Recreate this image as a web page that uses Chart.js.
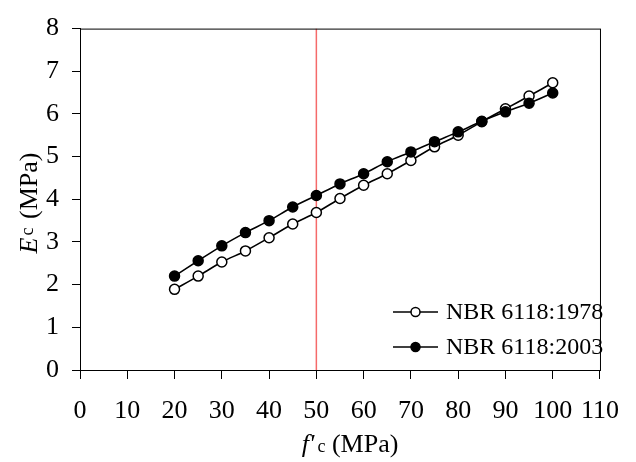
<!DOCTYPE html>
<html>
<head>
<meta charset="utf-8">
<script src="https://cdn.jsdelivr.net/npm/chart.js@4/dist/chart.umd.min.js"></script>
<style>
  html, body { margin: 0; padding: 0; background: #fff; }
  #wrap { width: 636px; height: 462px; }
</style>
</head>
<body>
<div id="wrap"><canvas id="chart" width="636" height="462"></canvas></div>
<script>
// f'c values (MPa)
const fck = [20, 25, 30, 35, 40, 45, 50, 55, 60, 65, 70, 75, 80, 85, 90, 95, 100];
// Ec
const ec1978 = [1.89, 2.20, 2.53, 2.79, 3.10, 3.42, 3.69, 4.02, 4.33, 4.60, 4.91, 5.23, 5.50, 5.82, 6.12, 6.42, 6.73];
const ec2003 = [2.20, 2.56, 2.91, 3.22, 3.50, 3.82, 4.09, 4.36, 4.60, 4.88, 5.11, 5.35, 5.58, 5.83, 6.05, 6.25, 6.49];
const seriesNames = ['NBR 6118:1978', 'NBR 6118:2003'];
const limitX = 50;   // red vertical line
const xTicks = [0, 10, 20, 30, 40, 50, 60, 70, 80, 90, 100, 110];
const yTicks = [0, 1, 2, 3, 4, 5, 6, 7, 8];

const FONT = '"Liberation Serif"';

function pts(xs, ys) {
  return xs.map((x, i) => ({ x: x, y: ys[i] }));
}

function drawParts(ctx, parts, cx, y) {
  let w = 0;
  parts.forEach(p => { ctx.font = p.f; w += ctx.measureText(p.t).width + (p.gap || 0); });
  let x = cx - w / 2;
  ctx.textAlign = 'left';
  ctx.textBaseline = 'alphabetic';
  parts.forEach(p => {
    ctx.font = p.f;
    ctx.fillText(p.t, x, y - (p.up || 0));
    x += ctx.measureText(p.t).width + (p.gap || 0);
  });
}

// box round plot area, axis titles and legend inside the plot
const extras = {
  id: 'extras',
  afterDraw(chart) {
    const ctx = chart.ctx;
    const a = chart.chartArea;
    ctx.save();
    ctx.strokeStyle = '#000';
    ctx.lineWidth = 1;
    ctx.strokeRect(a.left + 0.5, a.top + 0.5, a.right - a.left, a.bottom - a.top);
    ctx.fillStyle = '#000';

    // x title: f'c (MPa)
    drawParts(ctx, [
      { t: "f'", f: 'italic 26px ' + FONT, gap: 3 },
      { t: 'c', f: '18px ' + FONT },
      { t: ' (MPa)', f: '26px ' + FONT }
    ], 350, 452);

    // y title: Ec (MPa)
    ctx.save();
    ctx.translate(37, 203);
    ctx.rotate(-Math.PI / 2);
    drawParts(ctx, [
      { t: 'E', f: 'italic 26px ' + FONT, gap: 2 },
      { t: 'c', f: '18px ' + FONT, up: 4, gap: 2 },
      { t: ' (MPa)', f: '26px ' + FONT }
    ], 0, 0);
    ctx.restore();

    // legend
    const rows = [
      { y: 312, fill: '#fff', name: seriesNames[0] },
      { y: 347, fill: '#000', name: seriesNames[1] }
    ];
    rows.forEach(r => {
      ctx.strokeStyle = '#000';
      ctx.lineWidth = 1.5;
      ctx.beginPath();
      ctx.moveTo(393, r.y);
      ctx.lineTo(438, r.y);
      ctx.stroke();
      ctx.beginPath();
      ctx.arc(415.5, r.y, 4.5, 0, Math.PI * 2);
      ctx.fillStyle = r.fill;
      ctx.fill();
      ctx.stroke();
      ctx.fillStyle = '#000';
      ctx.font = '24px ' + FONT;
      ctx.textAlign = 'left';
      ctx.textBaseline = 'middle';
      ctx.fillText(r.name, 446, r.y + 1);
    });
    ctx.restore();
  }
};

new Chart(document.getElementById('chart'), {
  type: 'line',
  data: {
    datasets: [
      {
        label: seriesNames[0],
        data: pts(fck, ec1978),
        borderColor: '#000',
        borderWidth: 1.6,
        pointBackgroundColor: '#fff',
        pointBorderColor: '#000',
        pointBorderWidth: 1.5,
        pointRadius: 5,
        tension: 0.3,
        order: 2
      },
      {
        label: seriesNames[1],
        data: pts(fck, ec2003),
        borderColor: '#000',
        borderWidth: 1.6,
        pointBackgroundColor: '#000',
        pointBorderColor: '#000',
        pointBorderWidth: 1.5,
        pointRadius: 5,
        tension: 0.3,
        order: 1
      },
      {
        label: 'limit',
        data: [{ x: limitX, y: yTicks[0] }, { x: limitX, y: yTicks[yTicks.length - 1] }],
        borderColor: '#f56a6a',
        borderWidth: 1.5,
        pointRadius: 0,
        order: 3
      }
    ]
  },
  options: {
    responsive: false,
    animation: false,
    layout: { padding: { top: 26, right: 21, left: 0, bottom: 0 } },
    plugins: {
      legend: { display: false },
      tooltip: { enabled: false }
    },
    scales: {
      x: {
        type: 'linear',
        min: xTicks[0],
        max: xTicks[xTicks.length - 1],
        afterFit(s) { s.height = 92; },
        afterBuildTicks(s) { s.ticks = xTicks.map(v => ({ value: v })); },
        grid: { drawOnChartArea: false, drawTicks: true, tickLength: 9, color: '#000', tickColor: '#000' },
        border: { display: true, color: '#000', width: 1 },
        ticks: { color: '#000', font: { family: FONT, size: 26 }, padding: 17, maxRotation: 0, autoSkip: false }
      },
      y: {
        type: 'linear',
        min: yTicks[0],
        max: yTicks[yTicks.length - 1],
        afterFit(s) { s.width = 80; },
        afterBuildTicks(s) { s.ticks = yTicks.map(v => ({ value: v })); },
        grid: { drawOnChartArea: false, drawTicks: true, tickLength: 8, color: '#000', tickColor: '#000' },
        border: { display: true, color: '#000', width: 1 },
        ticks: { color: '#000', font: { family: FONT, size: 26 }, padding: 13, autoSkip: false }
      }
    }
  },
  plugins: [extras]
});
</script>
</body>
</html>
